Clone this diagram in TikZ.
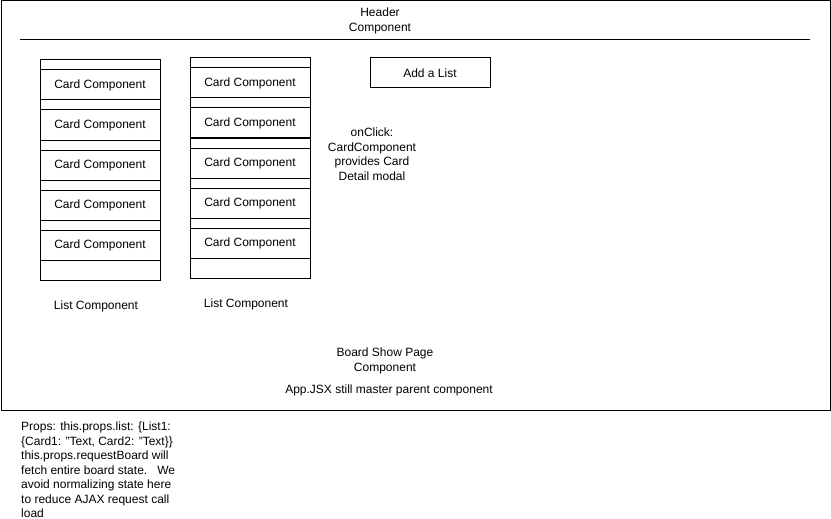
\documentclass[tikz,border=0pt]{standalone}
\usepackage{fontspec}
\setmainfont{Liberation Sans}
\begin{document}
\begin{tikzpicture}[x=1pt,y=-1pt,
  every node/.style={font=\fontsize{12}{14.5}\selectfont},
  box/.style={draw,line width=1pt,inner sep=0pt},
  listbox/.style={box,minimum width=120pt,minimum height=220pt},
  card/.style={box,minimum width=120pt,minimum height=30pt},
  txt/.style={align=center,inner sep=0pt},
  frame/.style={draw,line width=1pt}]
\useasboundingbox (0,0) rectangle (831,519);
\draw[frame] (1,1) rectangle (830,410);
\coordinate (hl) at (20,40);
\coordinate (hr) at (810,40);
\draw[frame] (hl) -- (hr);
\node[txt] (header) at (380,21) {Header\\Component};
% left list
\node[listbox] (listA) at (100,170) {};
\foreach \i/\y in {1/85,2/125,3/165,4/205,5/245}{
  \node[card] (a\i) at (100,\y) {Card Component};
}
% right list
\node[listbox] (listB) at (250,168) {};
\foreach \i/\y in {1/83,2/123,3/163,4/203,5/243}{
  \node[card] (b\i) at (250,\y) {Card Component};
}
\node[txt] (labA) at (96,306) {List Component};
\node[txt] (labB) at (246,304) {List Component};
\node[box,minimum width=120pt,minimum height=30pt] (add) at (430,73) {Add a List};
\node[txt] (onclick) at (372,154) {onClick:\\CardComponent\\provides Card\\Detail modal};
\node[txt] (board) at (385,361) {Board Show Page\\Component};
\node[txt] (app) at (389,390) {App.JSX still master parent component};
\node[txt,align=left,anchor=west] (props) at (21,470) {Props: this.props.list: \{List1:\\\{Card1: "Text, Card2: "Text\}\}\\this.props.requestBoard will\\fetch entire board state.\ \ \ We\\avoid normalizing state here\\to reduce AJAX request call\\load};
\end{tikzpicture}
\end{document}
